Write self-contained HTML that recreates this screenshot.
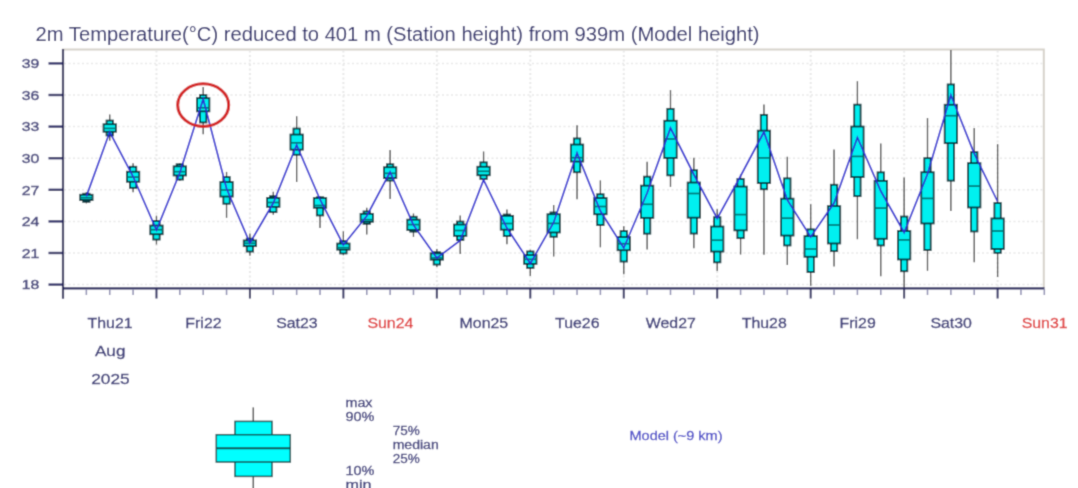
<!DOCTYPE html><html><head><meta charset="utf-8"><style>html,body{margin:0;padding:0;background:#fff;width:1078px;height:488px;overflow:hidden}svg{display:block}text{font-family:"Liberation Sans",sans-serif}</style></head><body>
<svg width="1078" height="488" viewBox="0 0 1078 488">
<defs><filter id="b" x="0" y="0" width="1078" height="488" filterUnits="userSpaceOnUse"><feConvolveMatrix order="3" kernelMatrix="0.0277 0.1110 0.0277 0.1110 0.4452 0.1110 0.0277 0.1110 0.0277" edgeMode="duplicate"/></filter></defs><g filter="url(#b)"><rect width="1078" height="488" fill="#fff"/>
<text x="35.6" y="40.9" font-size="20" fill="#2b2b6b" textLength="724" lengthAdjust="spacingAndGlyphs">2m Temperature(°C) reduced to 401 m (Station height) from 939m (Model height)</text>
<path d="M62 49.5H1043.8V288" fill="none" stroke="#d6d2ca" stroke-width="2"/>
<path d="M64 284.59 H1043 M64 252.99 H1043 M64 221.4 H1043 M64 189.8 H1043 M64 158.2 H1043 M64 126.6 H1043 M64 95 H1043 M64 63.4 H1043" fill="none" stroke="#e8e8e8" stroke-width="1.5" stroke-dasharray="2 2.5"/>
<path d="M156.46 50.5 V288 M249.92 50.5 V288 M343.38 50.5 V288 M436.84 50.5 V288 M530.3 50.5 V288 M623.76 50.5 V288 M717.22 50.5 V288 M810.68 50.5 V288 M904.14 50.5 V288 M997.6 50.5 V288" fill="none" stroke="#e8e8e8" stroke-width="2" stroke-dasharray="2 2.5"/>
<path d="M48.5 284.59 H63" stroke="#33336a" stroke-width="2.4"/>
<text x="21.8" y="289.39" font-size="13.5" fill="#48487e" stroke="#48487e" stroke-width="0.45" textLength="17.6" lengthAdjust="spacingAndGlyphs">18</text>
<path d="M48.5 252.99 H63" stroke="#33336a" stroke-width="2.4"/>
<text x="21.8" y="257.79" font-size="13.5" fill="#48487e" stroke="#48487e" stroke-width="0.45" textLength="17.6" lengthAdjust="spacingAndGlyphs">21</text>
<path d="M48.5 221.4 H63" stroke="#33336a" stroke-width="2.4"/>
<text x="21.8" y="226.2" font-size="13.5" fill="#48487e" stroke="#48487e" stroke-width="0.45" textLength="17.6" lengthAdjust="spacingAndGlyphs">24</text>
<path d="M48.5 189.8 H63" stroke="#33336a" stroke-width="2.4"/>
<text x="21.8" y="194.6" font-size="13.5" fill="#48487e" stroke="#48487e" stroke-width="0.45" textLength="17.6" lengthAdjust="spacingAndGlyphs">27</text>
<path d="M48.5 158.2 H63" stroke="#33336a" stroke-width="2.4"/>
<text x="21.8" y="163" font-size="13.5" fill="#48487e" stroke="#48487e" stroke-width="0.45" textLength="17.6" lengthAdjust="spacingAndGlyphs">30</text>
<path d="M48.5 126.6 H63" stroke="#33336a" stroke-width="2.4"/>
<text x="21.8" y="131.4" font-size="13.5" fill="#48487e" stroke="#48487e" stroke-width="0.45" textLength="17.6" lengthAdjust="spacingAndGlyphs">33</text>
<path d="M48.5 95 H63" stroke="#33336a" stroke-width="2.4"/>
<text x="21.8" y="99.8" font-size="13.5" fill="#48487e" stroke="#48487e" stroke-width="0.45" textLength="17.6" lengthAdjust="spacingAndGlyphs">36</text>
<path d="M48.5 63.4 H63" stroke="#33336a" stroke-width="2.4"/>
<text x="21.8" y="68.2" font-size="13.5" fill="#48487e" stroke="#48487e" stroke-width="0.45" textLength="17.6" lengthAdjust="spacingAndGlyphs">39</text>
<path d="M86.36 192 V203.4" stroke="#3a3a3a" stroke-width="1.3"/>
<path d="M109.73 114.5 V140.7" stroke="#3a3a3a" stroke-width="1.3"/>
<path d="M133.09 163.2 V192.3" stroke="#3a3a3a" stroke-width="1.3"/>
<path d="M156.46 215.7 V244.4" stroke="#3a3a3a" stroke-width="1.3"/>
<path d="M179.82 163.1 V181" stroke="#3a3a3a" stroke-width="1.3"/>
<path d="M203.19 86.9 V134.3" stroke="#3a3a3a" stroke-width="1.3"/>
<path d="M226.55 171.9 V217.8" stroke="#3a3a3a" stroke-width="1.3"/>
<path d="M249.92 233.6 V255.8" stroke="#3a3a3a" stroke-width="1.3"/>
<path d="M273.28 191.8 V214.7" stroke="#3a3a3a" stroke-width="1.3"/>
<path d="M296.65 116.2 V182.1" stroke="#3a3a3a" stroke-width="1.3"/>
<path d="M320.01 196 V227.9" stroke="#3a3a3a" stroke-width="1.3"/>
<path d="M343.38 231.4 V255.3" stroke="#3a3a3a" stroke-width="1.3"/>
<path d="M366.75 207.8 V234.4" stroke="#3a3a3a" stroke-width="1.3"/>
<path d="M390.11 149.9 V199.1" stroke="#3a3a3a" stroke-width="1.3"/>
<path d="M413.47 213.5 V236.9" stroke="#3a3a3a" stroke-width="1.3"/>
<path d="M436.84 248.9 V267" stroke="#3a3a3a" stroke-width="1.3"/>
<path d="M460.2 215.6 V254" stroke="#3a3a3a" stroke-width="1.3"/>
<path d="M483.57 151.5 V180.5" stroke="#3a3a3a" stroke-width="1.3"/>
<path d="M506.93 209.6 V244.2" stroke="#3a3a3a" stroke-width="1.3"/>
<path d="M530.3 249.8 V276.1" stroke="#3a3a3a" stroke-width="1.3"/>
<path d="M553.66 204.9 V256.6" stroke="#3a3a3a" stroke-width="1.3"/>
<path d="M577.03 125.2 V199.3" stroke="#3a3a3a" stroke-width="1.3"/>
<path d="M600.39 180.4 V247.3" stroke="#3a3a3a" stroke-width="1.3"/>
<path d="M623.76 226.3 V274.3" stroke="#3a3a3a" stroke-width="1.3"/>
<path d="M647.12 161.8 V249.6" stroke="#3a3a3a" stroke-width="1.3"/>
<path d="M670.49 90.1 V186.9" stroke="#3a3a3a" stroke-width="1.3"/>
<path d="M693.85 157.7 V248.2" stroke="#3a3a3a" stroke-width="1.3"/>
<path d="M717.22 209.3 V271" stroke="#3a3a3a" stroke-width="1.3"/>
<path d="M740.58 174.3 V254.5" stroke="#3a3a3a" stroke-width="1.3"/>
<path d="M763.95 104.5 V254.7" stroke="#3a3a3a" stroke-width="1.3"/>
<path d="M787.31 156.8 V264.9" stroke="#3a3a3a" stroke-width="1.3"/>
<path d="M810.68 204.2 V285.7" stroke="#3a3a3a" stroke-width="1.3"/>
<path d="M834.04 149.4 V266.5" stroke="#3a3a3a" stroke-width="1.3"/>
<path d="M857.41 81.2 V239.2" stroke="#3a3a3a" stroke-width="1.3"/>
<path d="M880.77 143.5 V276.2" stroke="#3a3a3a" stroke-width="1.3"/>
<path d="M904.14 177.4 V288" stroke="#3a3a3a" stroke-width="1.3"/>
<path d="M927.5 118 V270.8" stroke="#3a3a3a" stroke-width="1.3"/>
<path d="M950.87 50 V211" stroke="#3a3a3a" stroke-width="1.3"/>
<path d="M974.23 128 V262.2" stroke="#3a3a3a" stroke-width="1.3"/>
<path d="M997.6 144.1 V277" stroke="#3a3a3a" stroke-width="1.3"/>
<rect x="83.16" y="193.75" width="6.4" height="8.1" fill="#00f0f0" stroke="#00363c" stroke-width="1.8"/>
<rect x="80.16" y="194.75" width="12.4" height="5.3" fill="#00f0f0" stroke="#00363c" stroke-width="1.8"/>
<path d="M80.16 197.7 H92.56" stroke="#007474" stroke-width="1.7"/>
<rect x="106.53" y="120.55" width="6.4" height="14.9" fill="#00f0f0" stroke="#00363c" stroke-width="1.8"/>
<rect x="103.53" y="124.25" width="12.4" height="7.5" fill="#00f0f0" stroke="#00363c" stroke-width="1.8"/>
<path d="M103.53 128.4 H115.93" stroke="#007474" stroke-width="1.7"/>
<rect x="129.9" y="166.75" width="6.4" height="21.1" fill="#00f0f0" stroke="#00363c" stroke-width="1.8"/>
<rect x="126.89" y="171.75" width="12.4" height="10" fill="#00f0f0" stroke="#00363c" stroke-width="1.8"/>
<path d="M126.89 177.1 H139.29" stroke="#007474" stroke-width="1.7"/>
<rect x="153.26" y="220.95" width="6.4" height="18.6" fill="#00f0f0" stroke="#00363c" stroke-width="1.8"/>
<rect x="150.26" y="225.55" width="12.4" height="8.7" fill="#00f0f0" stroke="#00363c" stroke-width="1.8"/>
<path d="M150.26 229.7 H162.66" stroke="#007474" stroke-width="1.7"/>
<rect x="176.62" y="164.25" width="6.4" height="15.3" fill="#00f0f0" stroke="#00363c" stroke-width="1.8"/>
<rect x="173.62" y="166.35" width="12.4" height="9.1" fill="#00f0f0" stroke="#00363c" stroke-width="1.8"/>
<path d="M173.62 171.7 H186.02" stroke="#007474" stroke-width="1.7"/>
<rect x="199.99" y="95.05" width="6.4" height="27.4" fill="#00f0f0" stroke="#00363c" stroke-width="1.8"/>
<rect x="196.99" y="98.15" width="12.4" height="13.2" fill="#00f0f0" stroke="#00363c" stroke-width="1.8"/>
<path d="M196.99 107.8 H209.39" stroke="#007474" stroke-width="1.7"/>
<rect x="223.35" y="177.05" width="6.4" height="26.7" fill="#00f0f0" stroke="#00363c" stroke-width="1.8"/>
<rect x="220.35" y="182.05" width="12.4" height="14.5" fill="#00f0f0" stroke="#00363c" stroke-width="1.8"/>
<path d="M220.35 190 H232.75" stroke="#007474" stroke-width="1.7"/>
<rect x="246.72" y="238.65" width="6.4" height="12.9" fill="#00f0f0" stroke="#00363c" stroke-width="1.8"/>
<rect x="243.72" y="240.45" width="12.4" height="5.7" fill="#00f0f0" stroke="#00363c" stroke-width="1.8"/>
<path d="M243.72 243.3 H256.12" stroke="#007474" stroke-width="1.7"/>
<rect x="270.08" y="196.15" width="6.4" height="16" fill="#00f0f0" stroke="#00363c" stroke-width="1.8"/>
<rect x="267.08" y="197.95" width="12.4" height="8.9" fill="#00f0f0" stroke="#00363c" stroke-width="1.8"/>
<path d="M267.08 202.5 H279.48" stroke="#007474" stroke-width="1.7"/>
<rect x="293.45" y="128.55" width="6.4" height="26.2" fill="#00f0f0" stroke="#00363c" stroke-width="1.8"/>
<rect x="290.45" y="134.55" width="12.4" height="15.1" fill="#00f0f0" stroke="#00363c" stroke-width="1.8"/>
<path d="M290.45 142.8 H302.85" stroke="#007474" stroke-width="1.7"/>
<rect x="316.81" y="197.25" width="6.4" height="18.2" fill="#00f0f0" stroke="#00363c" stroke-width="1.8"/>
<rect x="313.81" y="198.05" width="12.4" height="9.7" fill="#00f0f0" stroke="#00363c" stroke-width="1.8"/>
<path d="M313.81 205.5 H326.21" stroke="#007474" stroke-width="1.7"/>
<rect x="340.18" y="240.95" width="6.4" height="12.5" fill="#00f0f0" stroke="#00363c" stroke-width="1.8"/>
<rect x="337.18" y="243.55" width="12.4" height="6.1" fill="#00f0f0" stroke="#00363c" stroke-width="1.8"/>
<path d="M337.18 247.7 H349.58" stroke="#007474" stroke-width="1.7"/>
<rect x="363.55" y="211.45" width="6.4" height="12.4" fill="#00f0f0" stroke="#00363c" stroke-width="1.8"/>
<rect x="360.55" y="213.85" width="12.4" height="7.9" fill="#00f0f0" stroke="#00363c" stroke-width="1.8"/>
<path d="M360.55 219.7 H372.94" stroke="#007474" stroke-width="1.7"/>
<rect x="386.91" y="164.25" width="6.4" height="16.3" fill="#00f0f0" stroke="#00363c" stroke-width="1.8"/>
<rect x="383.91" y="167.25" width="12.4" height="10.8" fill="#00f0f0" stroke="#00363c" stroke-width="1.8"/>
<path d="M383.91 173.3 H396.31" stroke="#007474" stroke-width="1.7"/>
<rect x="410.27" y="216.75" width="6.4" height="14.9" fill="#00f0f0" stroke="#00363c" stroke-width="1.8"/>
<rect x="407.27" y="219.65" width="12.4" height="10.3" fill="#00f0f0" stroke="#00363c" stroke-width="1.8"/>
<path d="M407.27 224.6 H419.67" stroke="#007474" stroke-width="1.7"/>
<rect x="433.64" y="252.15" width="6.4" height="12.4" fill="#00f0f0" stroke="#00363c" stroke-width="1.8"/>
<rect x="430.64" y="253.35" width="12.4" height="6.3" fill="#00f0f0" stroke="#00363c" stroke-width="1.8"/>
<path d="M430.64 258 H443.04" stroke="#007474" stroke-width="1.7"/>
<rect x="457" y="221.55" width="6.4" height="18.4" fill="#00f0f0" stroke="#00363c" stroke-width="1.8"/>
<rect x="454" y="224.55" width="12.4" height="11.3" fill="#00f0f0" stroke="#00363c" stroke-width="1.8"/>
<path d="M454 230.5 H466.4" stroke="#007474" stroke-width="1.7"/>
<rect x="480.37" y="162.35" width="6.4" height="16.6" fill="#00f0f0" stroke="#00363c" stroke-width="1.8"/>
<rect x="477.37" y="166.75" width="12.4" height="8.5" fill="#00f0f0" stroke="#00363c" stroke-width="1.8"/>
<path d="M477.37 171.3 H489.77" stroke="#007474" stroke-width="1.7"/>
<rect x="503.73" y="214.55" width="6.4" height="21.5" fill="#00f0f0" stroke="#00363c" stroke-width="1.8"/>
<rect x="500.73" y="215.85" width="12.4" height="13.8" fill="#00f0f0" stroke="#00363c" stroke-width="1.8"/>
<path d="M500.73 223.5 H513.13" stroke="#007474" stroke-width="1.7"/>
<rect x="527.1" y="251.45" width="6.4" height="16.5" fill="#00f0f0" stroke="#00363c" stroke-width="1.8"/>
<rect x="524.1" y="255.05" width="12.4" height="8.8" fill="#00f0f0" stroke="#00363c" stroke-width="1.8"/>
<path d="M524.1 259.3 H536.5" stroke="#007474" stroke-width="1.7"/>
<rect x="550.46" y="212.45" width="6.4" height="24.3" fill="#00f0f0" stroke="#00363c" stroke-width="1.8"/>
<rect x="547.46" y="214.25" width="12.4" height="18.2" fill="#00f0f0" stroke="#00363c" stroke-width="1.8"/>
<path d="M547.46 223.4 H559.87" stroke="#007474" stroke-width="1.7"/>
<rect x="573.83" y="138.45" width="6.4" height="33.8" fill="#00f0f0" stroke="#00363c" stroke-width="1.8"/>
<rect x="570.83" y="144.55" width="12.4" height="17" fill="#00f0f0" stroke="#00363c" stroke-width="1.8"/>
<path d="M570.83 157.7 H583.23" stroke="#007474" stroke-width="1.7"/>
<rect x="597.19" y="194.25" width="6.4" height="30.8" fill="#00f0f0" stroke="#00363c" stroke-width="1.8"/>
<rect x="594.19" y="198.05" width="12.4" height="16.2" fill="#00f0f0" stroke="#00363c" stroke-width="1.8"/>
<path d="M594.19 206.5 H606.6" stroke="#007474" stroke-width="1.7"/>
<rect x="620.56" y="231.05" width="6.4" height="30.5" fill="#00f0f0" stroke="#00363c" stroke-width="1.8"/>
<rect x="617.56" y="237.05" width="12.4" height="13.2" fill="#00f0f0" stroke="#00363c" stroke-width="1.8"/>
<path d="M617.56 243.7 H629.96" stroke="#007474" stroke-width="1.7"/>
<rect x="643.92" y="176.65" width="6.4" height="57" fill="#00f0f0" stroke="#00363c" stroke-width="1.8"/>
<rect x="640.92" y="185.65" width="12.4" height="32.2" fill="#00f0f0" stroke="#00363c" stroke-width="1.8"/>
<path d="M640.92 204.3 H653.33" stroke="#007474" stroke-width="1.7"/>
<rect x="667.29" y="108.85" width="6.4" height="66.5" fill="#00f0f0" stroke="#00363c" stroke-width="1.8"/>
<rect x="664.29" y="120.75" width="12.4" height="37.2" fill="#00f0f0" stroke="#00363c" stroke-width="1.8"/>
<path d="M664.29 139 H676.69" stroke="#007474" stroke-width="1.7"/>
<rect x="690.65" y="170.25" width="6.4" height="63.3" fill="#00f0f0" stroke="#00363c" stroke-width="1.8"/>
<rect x="687.65" y="182.55" width="12.4" height="35.1" fill="#00f0f0" stroke="#00363c" stroke-width="1.8"/>
<path d="M687.65 193.5 H700.05" stroke="#007474" stroke-width="1.7"/>
<rect x="714.02" y="217.25" width="6.4" height="45.1" fill="#00f0f0" stroke="#00363c" stroke-width="1.8"/>
<rect x="711.02" y="226.55" width="12.4" height="25" fill="#00f0f0" stroke="#00363c" stroke-width="1.8"/>
<path d="M711.02 240.2 H723.42" stroke="#007474" stroke-width="1.7"/>
<rect x="737.38" y="179.05" width="6.4" height="59.1" fill="#00f0f0" stroke="#00363c" stroke-width="1.8"/>
<rect x="734.38" y="186.55" width="12.4" height="43.8" fill="#00f0f0" stroke="#00363c" stroke-width="1.8"/>
<path d="M734.38 214.6 H746.78" stroke="#007474" stroke-width="1.7"/>
<rect x="760.75" y="114.85" width="6.4" height="74.4" fill="#00f0f0" stroke="#00363c" stroke-width="1.8"/>
<rect x="757.75" y="130.65" width="12.4" height="52.4" fill="#00f0f0" stroke="#00363c" stroke-width="1.8"/>
<path d="M757.75 157.9 H770.15" stroke="#007474" stroke-width="1.7"/>
<rect x="784.11" y="178.35" width="6.4" height="67.1" fill="#00f0f0" stroke="#00363c" stroke-width="1.8"/>
<rect x="781.11" y="198.65" width="12.4" height="36.9" fill="#00f0f0" stroke="#00363c" stroke-width="1.8"/>
<path d="M781.11 218.2 H793.51" stroke="#007474" stroke-width="1.7"/>
<rect x="807.48" y="229.35" width="6.4" height="42.7" fill="#00f0f0" stroke="#00363c" stroke-width="1.8"/>
<rect x="804.48" y="236.15" width="12.4" height="20.6" fill="#00f0f0" stroke="#00363c" stroke-width="1.8"/>
<path d="M804.48 249 H816.88" stroke="#007474" stroke-width="1.7"/>
<rect x="830.84" y="184.75" width="6.4" height="66.4" fill="#00f0f0" stroke="#00363c" stroke-width="1.8"/>
<rect x="827.84" y="206.15" width="12.4" height="37.3" fill="#00f0f0" stroke="#00363c" stroke-width="1.8"/>
<path d="M827.84 225 H840.25" stroke="#007474" stroke-width="1.7"/>
<rect x="854.21" y="104.65" width="6.4" height="91.5" fill="#00f0f0" stroke="#00363c" stroke-width="1.8"/>
<rect x="851.21" y="126.55" width="12.4" height="50.5" fill="#00f0f0" stroke="#00363c" stroke-width="1.8"/>
<path d="M851.21 156.4 H863.61" stroke="#007474" stroke-width="1.7"/>
<rect x="877.57" y="172.35" width="6.4" height="73.1" fill="#00f0f0" stroke="#00363c" stroke-width="1.8"/>
<rect x="874.57" y="180.85" width="12.4" height="57.9" fill="#00f0f0" stroke="#00363c" stroke-width="1.8"/>
<path d="M874.57 208.1 H886.98" stroke="#007474" stroke-width="1.7"/>
<rect x="900.94" y="216.55" width="6.4" height="54.7" fill="#00f0f0" stroke="#00363c" stroke-width="1.8"/>
<rect x="897.94" y="231.05" width="12.4" height="28.4" fill="#00f0f0" stroke="#00363c" stroke-width="1.8"/>
<path d="M897.94 239.9 H910.34" stroke="#007474" stroke-width="1.7"/>
<rect x="924.3" y="158.15" width="6.4" height="91.9" fill="#00f0f0" stroke="#00363c" stroke-width="1.8"/>
<rect x="921.3" y="172.25" width="12.4" height="51.2" fill="#00f0f0" stroke="#00363c" stroke-width="1.8"/>
<path d="M921.3 198.4 H933.71" stroke="#007474" stroke-width="1.7"/>
<rect x="947.67" y="84.45" width="6.4" height="96.2" fill="#00f0f0" stroke="#00363c" stroke-width="1.8"/>
<rect x="944.67" y="104.75" width="12.4" height="38.4" fill="#00f0f0" stroke="#00363c" stroke-width="1.8"/>
<path d="M944.67 115.7 H957.07" stroke="#007474" stroke-width="1.7"/>
<rect x="971.03" y="152.15" width="6.4" height="79.3" fill="#00f0f0" stroke="#00363c" stroke-width="1.8"/>
<rect x="968.03" y="163.15" width="12.4" height="44.3" fill="#00f0f0" stroke="#00363c" stroke-width="1.8"/>
<path d="M968.03 186.1 H980.43" stroke="#007474" stroke-width="1.7"/>
<rect x="994.4" y="203.05" width="6.4" height="49.8" fill="#00f0f0" stroke="#00363c" stroke-width="1.8"/>
<rect x="991.4" y="218.45" width="12.4" height="30.5" fill="#00f0f0" stroke="#00363c" stroke-width="1.8"/>
<path d="M991.4 231 H1003.8" stroke="#007474" stroke-width="1.7"/>
<polyline points="86.36,196.4 109.73,132 133.09,176.5 156.46,230 179.82,172.7 203.19,99 226.55,188.5 249.92,243 273.28,203 296.65,145 320.01,199.5 343.38,245 366.75,216 390.11,172 413.47,225 436.84,258 460.2,240.5 483.57,180 506.93,228 530.3,263.5 553.66,222.5 577.03,153 600.39,211 623.76,248 647.12,193 670.49,128 693.85,174.5 717.22,218.5 740.58,176 763.95,132 787.31,200 810.68,237 834.04,203 857.41,137.5 880.77,191 904.14,232.5 927.5,174 950.87,95 974.23,153.6 997.6,201.5" fill="none" stroke="#2828d0" stroke-width="1.7"/>
<path d="M63 49 V298.5" stroke="#2a2a5e" stroke-width="2.2"/>
<path d="M62 288.3 H1044.5" stroke="#2a2a5e" stroke-width="2.2"/>
<path d="M63 289 V298.5 M156.46 289 V298.5 M249.92 289 V298.5 M343.38 289 V298.5 M436.84 289 V298.5 M530.3 289 V298.5 M623.76 289 V298.5 M717.22 289 V298.5 M810.68 289 V298.5 M904.14 289 V298.5 M997.6 289 V298.5" stroke="#2a2a5e" stroke-width="2"/>
<path d="M86.36 289 V295 M109.73 289 V295 M133.09 289 V295 M179.82 289 V295 M203.19 289 V295 M226.55 289 V295 M273.28 289 V295 M296.65 289 V295 M320.01 289 V295 M366.75 289 V295 M390.11 289 V295 M413.47 289 V295 M460.2 289 V295 M483.57 289 V295 M506.93 289 V295 M553.66 289 V295 M577.03 289 V295 M600.39 289 V295 M647.12 289 V295 M670.49 289 V295 M693.85 289 V295 M740.58 289 V295 M763.95 289 V295 M787.31 289 V295 M834.04 289 V295 M857.41 289 V295 M880.77 289 V295 M927.5 289 V295 M950.87 289 V295 M974.23 289 V295 M1020.96 289 V295 M1044.33 289 V295" stroke="#8c8cb0" stroke-width="1.5"/>
<text x="110.03" y="327.9" font-size="14" fill="#3a3a78" stroke="#3a3a78" stroke-width="0.3" text-anchor="middle" textLength="45.06" lengthAdjust="spacingAndGlyphs">Thu21</text>
<text x="203.49" y="327.9" font-size="14" fill="#3a3a78" stroke="#3a3a78" stroke-width="0.3" text-anchor="middle" textLength="36.22" lengthAdjust="spacingAndGlyphs">Fri22</text>
<text x="296.95" y="327.9" font-size="14" fill="#3a3a78" stroke="#3a3a78" stroke-width="0.3" text-anchor="middle" textLength="41.53" lengthAdjust="spacingAndGlyphs">Sat23</text>
<text x="390.41" y="327.9" font-size="14" fill="#e03c3c" stroke="#e03c3c" stroke-width="0.3" text-anchor="middle" textLength="45.94" lengthAdjust="spacingAndGlyphs">Sun24</text>
<text x="483.87" y="327.9" font-size="14" fill="#3a3a78" stroke="#3a3a78" stroke-width="0.3" text-anchor="middle" textLength="48.59" lengthAdjust="spacingAndGlyphs">Mon25</text>
<text x="577.33" y="327.9" font-size="14" fill="#3a3a78" stroke="#3a3a78" stroke-width="0.3" text-anchor="middle" textLength="44.48" lengthAdjust="spacingAndGlyphs">Tue26</text>
<text x="670.79" y="327.9" font-size="14" fill="#3a3a78" stroke="#3a3a78" stroke-width="0.3" text-anchor="middle" textLength="50.06" lengthAdjust="spacingAndGlyphs">Wed27</text>
<text x="764.25" y="327.9" font-size="14" fill="#3a3a78" stroke="#3a3a78" stroke-width="0.3" text-anchor="middle" textLength="45.06" lengthAdjust="spacingAndGlyphs">Thu28</text>
<text x="857.71" y="327.9" font-size="14" fill="#3a3a78" stroke="#3a3a78" stroke-width="0.3" text-anchor="middle" textLength="36.22" lengthAdjust="spacingAndGlyphs">Fri29</text>
<text x="951.17" y="327.9" font-size="14" fill="#3a3a78" stroke="#3a3a78" stroke-width="0.3" text-anchor="middle" textLength="41.53" lengthAdjust="spacingAndGlyphs">Sat30</text>
<text x="1044.63" y="327.9" font-size="14" fill="#e03c3c" stroke="#e03c3c" stroke-width="0.3" text-anchor="middle" textLength="45.94" lengthAdjust="spacingAndGlyphs">Sun31</text>
<text x="110.2" y="355.8" font-size="14" fill="#3a3a78" stroke="#3a3a78" stroke-width="0.3" text-anchor="middle" textLength="30.5" lengthAdjust="spacingAndGlyphs">Aug</text>
<text x="110.4" y="383.7" font-size="14" fill="#3a3a78" stroke="#3a3a78" stroke-width="0.3" text-anchor="middle" textLength="38.5" lengthAdjust="spacingAndGlyphs">2025</text>
<ellipse cx="203.2" cy="105.1" rx="25.5" ry="21.3" fill="none" stroke="#d42020" stroke-width="3"/>
<path d="M253.3 407.4 V488" stroke="#4a4a4a" stroke-width="1.5"/>
<rect x="235" y="421.4" width="37" height="55" fill="#00ffff" stroke="#0a5050" stroke-width="1.5"/>
<rect x="216.3" y="434.7" width="74" height="27.3" fill="#00ffff" stroke="#0a5050" stroke-width="1.5"/>
<path d="M216.3 448.3 H290.3" stroke="#0a5050" stroke-width="2"/>
<text x="345.5" y="407.1" font-size="12" fill="#3c3c7c" stroke="#3c3c7c" stroke-width="0.3" textLength="27" lengthAdjust="spacingAndGlyphs">max</text>
<text x="345.5" y="421.1" font-size="12" fill="#3c3c7c" stroke="#3c3c7c" stroke-width="0.3" textLength="29" lengthAdjust="spacingAndGlyphs">90%</text>
<text x="392.7" y="435.2" font-size="12" fill="#3c3c7c" stroke="#3c3c7c" stroke-width="0.3" textLength="27" lengthAdjust="spacingAndGlyphs">75%</text>
<text x="392.7" y="449.2" font-size="12" fill="#3c3c7c" stroke="#3c3c7c" stroke-width="0.3" textLength="46" lengthAdjust="spacingAndGlyphs">median</text>
<text x="392.7" y="462.7" font-size="12" fill="#3c3c7c" stroke="#3c3c7c" stroke-width="0.3" textLength="27" lengthAdjust="spacingAndGlyphs">25%</text>
<text x="345.5" y="475.3" font-size="12" fill="#3c3c7c" stroke="#3c3c7c" stroke-width="0.3" textLength="29" lengthAdjust="spacingAndGlyphs">10%</text>
<text x="345.5" y="489" font-size="12" fill="#3c3c7c" stroke="#3c3c7c" stroke-width="0.3" textLength="26" lengthAdjust="spacingAndGlyphs">min</text>
<text x="629.5" y="439.7" font-size="12.5" fill="#4a4ac8" stroke="#4a4ac8" stroke-width="0.3" textLength="93" lengthAdjust="spacingAndGlyphs">Model (~9 km)</text>
</g></svg></body></html>
